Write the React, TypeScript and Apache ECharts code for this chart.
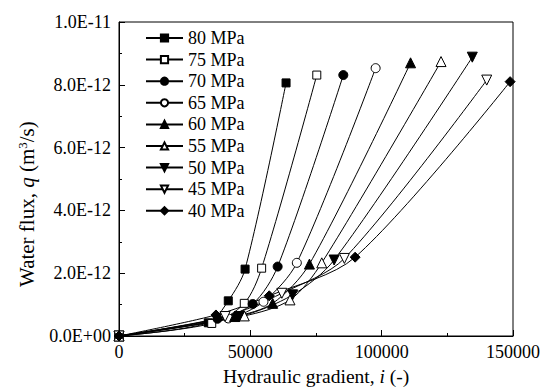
import React, { useEffect, useRef } from "react";
import * as echarts from "echarts";

const seriesNames = ["80 MPa", "75 MPa", "70 MPa", "65 MPa", "60 MPa", "55 MPa", "50 MPa", "45 MPa", "40 MPa"];

// [hydraulic gradient, water flux (x1e-12 m^3/s)]
const s80: [number, number][] = [[0, 0], [34000, 0.42], [41600, 1.12], [48000, 2.13], [63600, 8.06]];
const s75: [number, number][] = [[0, 0], [35300, 0.40], [47700, 1.04], [54300, 2.16], [75300, 8.31]];
const s70: [number, number][] = [[0, 0], [37500, 0.55], [50900, 1.02], [60400, 2.21], [85400, 8.31]];
const s65: [number, number][] = [[0, 0], [41600, 0.56], [55000, 1.09], [67700, 2.33], [97700, 8.53]];
const s60: [number, number][] = [[0, 0], [44000, 0.62], [58500, 1.04], [72500, 2.29], [111000, 8.70]];
const s55: [number, number][] = [[0, 0], [47700, 0.64], [65100, 1.15], [77200, 2.33], [122600, 8.74]];
const s50: [number, number][] = [[0, 0], [45800, 0.62], [66100, 1.31], [81900, 2.42], [134500, 8.88]];
const s45: [number, number][] = [[0, 0], [40400, 0.62], [62000, 1.36], [85800, 2.47], [140000, 8.15]];
const s40: [number, number][] = [[0, 0], [36900, 0.67], [57200, 1.28], [89900, 2.51], [148900, 8.10]];

const allData = [s80, s75, s70, s65, s60, s55, s50, s45, s40];

const yTickLabels = ["0.0E+00", "2.0E-12", "4.0E-12", "6.0E-12", "8.0E-12", "1.0E-11"];
const xTickLabels = ["0", "50000", "100000", "150000"];

const symbols = ["rect", "rect", "circle", "circle", "triangle", "triangle", "triangle", "triangle", "diamond"];
const filled = [true, false, true, false, true, false, true, false, true];
const rotations = [0, 0, 0, 0, 0, 0, 180, 180, 0];
const sizes = [8, 8, 9, 9, 10, 10, 10, 10, 10];

const FONT = "Liberation Serif";

export default function App() {
  const ref = useRef<HTMLDivElement>(null);
  useEffect(() => {
    if (!ref.current) return;
    const chart = echarts.init(ref.current, null, { renderer: "svg" });
    const series = allData.map((d, i) => ({
      name: seriesNames[i],
      type: "line",
      data: d,
      smooth: 0.3,
      symbol: symbols[i],
      symbolSize: sizes[i],
      symbolRotate: rotations[i],
      showAllSymbol: true,
      lineStyle: { color: "#000", width: 1 },
      itemStyle: {
        color: filled[i] ? "#000" : "#fff",
        borderColor: "#000",
        borderWidth: 1,
      },
      emphasis: { disabled: true },
      z: 2,
    }));
    chart.setOption({
      animation: false,
      backgroundColor: "#fff",
      textStyle: { fontFamily: FONT },
      grid: {
        left: 119,
        right: 38,
        top: 22,
        bottom: 54,
        show: true,
        borderColor: "#000",
        borderWidth: 1,
        backgroundColor: "transparent",
      },
      legend: {
        orient: "vertical",
        left: 140,
        top: 24,
        itemWidth: 37,
        itemHeight: 9,
        itemGap: 3.6,
        symbolRotate: "inherit",
        textStyle: { fontFamily: FONT, fontSize: 18, color: "#000" },
        data: seriesNames,
      },
      xAxis: {
        type: "value",
        min: 0,
        max: 150000,
        interval: 50000,
        axisLine: { lineStyle: { color: "#000", width: 1 } },
        axisTick: { inside: true, length: 6, lineStyle: { color: "#000" } },
        minorTick: { show: true, splitNumber: 2, length: 3, lineStyle: { color: "#000" } },
        splitLine: { show: false },
        axisLabel: {
          color: "#000",
          fontFamily: FONT,
          fontSize: 18,
          margin: 7,
          formatter: (v: number) => xTickLabels[Math.round(v / 50000)] ?? String(v),
        },
      },
      yAxis: {
        type: "value",
        min: 0,
        max: 10,
        interval: 2,
        axisLine: { lineStyle: { color: "#000", width: 1 } },
        axisTick: { inside: true, length: 6, lineStyle: { color: "#000" } },
        minorTick: { show: true, splitNumber: 2, length: 3, lineStyle: { color: "#000" } },
        splitLine: { show: false },
        axisLabel: {
          color: "#000",
          fontFamily: FONT,
          fontSize: 18,
          margin: 8,
          formatter: (v: number) => yTickLabels[Math.round(v / 2)] ?? String(v),
        },
      },
      graphic: [
        {
          type: "text",
          left: 223,
          top: 366,
          style: {
            text: "Hydraulic gradient, {i|i} (-)",
            font: `19.5px ${FONT}`,
            fill: "#000",
            rich: { i: { fontStyle: "italic", fontSize: 19.5, fontFamily: FONT } },
          },
        },
        {
          type: "text",
          x: 16,
          y: 287,
          rotation: Math.PI / 2,
          style: {
            text: "Water flux, {i|q} (m{sup|3}/s)",
            font: `21px ${FONT}`,
            fill: "#000",
            rich: {
              i: { fontStyle: "italic", fontSize: 21, fontFamily: FONT },
              sup: { fontSize: 13, fontFamily: FONT, verticalAlign: "top", padding: [0, 0, 8, 0] },
            },
          },
        },
      ],
      series,
    });
    return () => chart.dispose();
  }, []);
  return <div ref={ref} style={{ width: 551, height: 390, position: "absolute", left: 0, top: 0 }} />;
}
